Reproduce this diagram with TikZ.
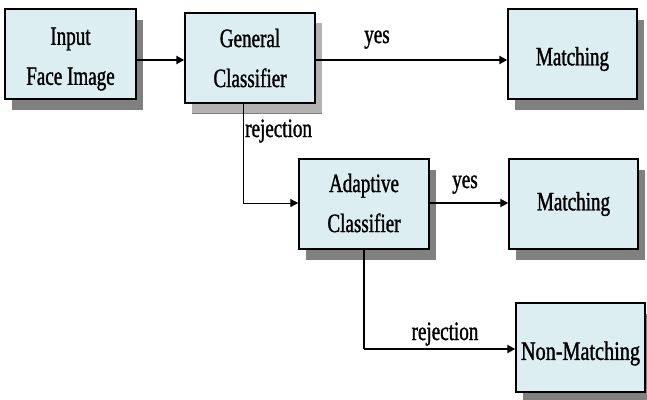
\documentclass[tikz,border=0pt]{standalone}
\usepackage{fontspec}
\setmainfont{Liberation Serif}[FakeStretch=0.72, FakeBold=1.2]
\usetikzlibrary{arrows.meta,shadows}
\definecolor{boxfill}{RGB}{220,238,241}
\definecolor{shadowgray}{RGB}{128,128,128}
\definecolor{dotgray}{RGB}{178,178,178}
\tikzset{
  boxtext/.style={align=center, inner sep=0pt, font=\fontsize{26.5}{40}\selectfont},
  box/.style={draw=black, line width=1.4pt, fill=boxfill, inner sep=0pt,
    minimum width=#1, minimum height=90pt,
    drop shadow={shadow xshift=7pt, shadow yshift=-11pt, fill=shadowgray, opacity=1}},
  box/.default=130pt,
  lightbox/.style={box=#1,
    drop shadow={shadow xshift=7pt, shadow yshift=-10pt, fill=dotgray, opacity=1}},
  lbl/.style={font=\fontsize{26.5}{30}\selectfont, inner sep=0pt},
  tip/.style={-{Triangle[length=8pt,width=8pt]}},
  heavy/.style={tip, line width=2.6pt},
  medium/.style={tip, line width=1.8pt},
  fine/.style={line width=1pt},
}
\begin{document}
\begin{tikzpicture}[x=1pt,y=-1pt]
  \fill[white] (0,0) rectangle (647,399);
  \useasboundingbox (0,0) rectangle (647,399);

  % boxes, each with its caption set a little off centre where needed
  \node[box=131pt, label={[boxtext,yshift=-5pt]center:{Input\\Face Image}}] (in) at (70.5,54) {};
  \node[lightbox=130pt, label={[boxtext]center:{General\\Classifier}}] (gen) at (250,58) {};
  \node[box=129pt, label={[boxtext,yshift=-5pt]center:{Matching}}] (m1) at (572.5,54) {};
  \node[box=130pt, label={[boxtext,yshift=1pt]center:{Adaptive\\Classifier}}] (ada) at (364,204) {};
  \node[box=129pt, label={[boxtext]center:{Matching}}] (m2) at (573.5,204) {};
  \node[box=129pt, minimum height=89pt,
        label={[boxtext,yshift=-6pt]center:{\scalebox{1.06}[1]{Non-Matching}}}] (nm) at (580.5,347.5) {};

  % connector rows
  \coordinate (row1) at (0,60);
  \coordinate (rj1)  at (243,203);
  \coordinate (rj2)  at (364,349);

  % first stage
  \draw[heavy] (in.east |- row1) -- (gen.west |- row1);
  \draw[heavy] (gen.east |- row1) -- (m1.west |- row1);
  \node[lbl, anchor=base] (yes1) at (377,43) {yes};

  % rejection to the adaptive stage
  \draw[fine] (rj1 |- gen.south) -- (rj1);
  \draw[tip, line width=1pt] (rj1) -- (ada.west |- rj1);
  \node[lbl, anchor=base west] (rej1) at (245,137) {rejection};

  % second stage
  \draw[medium] (ada.east |- rj1) -- (m2.west |- rj1);
  \node[lbl, anchor=base] (yes2) at (465,188) {yes};

  \draw[line width=1.5pt] (ada.south) -- (rj2);
  \draw[heavy] (rj2) -- (nm.west |- rj2);
  \node[lbl, anchor=base] (rej2) at (445,340) {rejection};
\end{tikzpicture}
\end{document}
